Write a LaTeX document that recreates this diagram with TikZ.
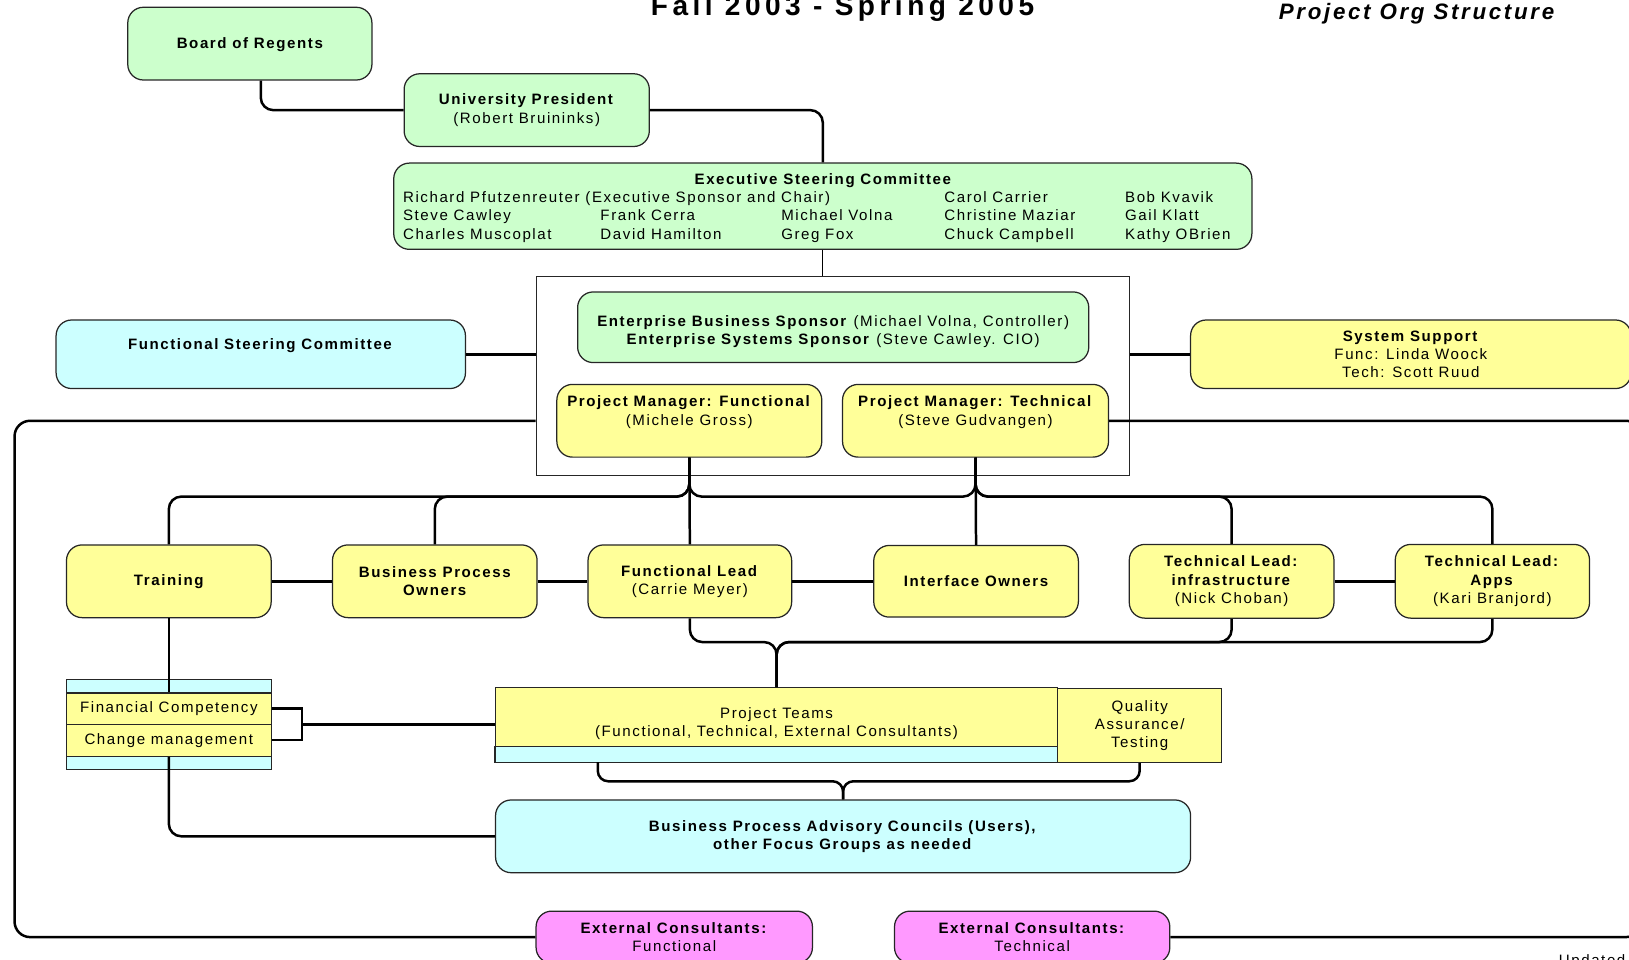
\documentclass[tikz,border=0pt]{standalone}
\usepackage{fontspec}
\setmainfont{Liberation Sans}[LetterSpace=10.5]
\usepackage{tikz}
\usepackage{xcolor}
\definecolor{boardgreen}{HTML}{CCFFCC}
\definecolor{steercyan}{HTML}{CCFFFF}
\definecolor{teamyellow}{HTML}{FFFF99}
\definecolor{consultpink}{HTML}{FF99FF}

\begin{document}
\begin{tikzpicture}[x=1pt,y=-1pt,font=\fontsize{14.5}{17.5}\selectfont,
  roundbox/.style={draw=black!85,line width=1.2pt,rounded corners=15pt,inner sep=0pt},
  box/.style={roundbox,align=center},
  plainbox/.style={draw=black!85,line width=1.2pt,inner sep=0pt,align=center},
  conn/.style={line width=2.4pt,rounded corners=12pt}]
\useasboundingbox (0,0) rectangle (1568,924);
\node[anchor=base,font=\fontsize{27}{31}\selectfont\bfseries\addfontfeatures{LetterSpace=16}] (title) at (811,15) {Fall 2003 - Spring 2005};
\node[anchor=base,font=\fontsize{21.5}{25}\selectfont\bfseries\itshape\addfontfeatures{LetterSpace=12}] (subtitle) at (1363.5,19) {Project Org Structure};
\node[box,fill=boardgreen,minimum width=235,minimum height=70] (bor) at (240.5,42) {\rule{0pt}{13pt}\bfseries Board of Regents};
\node[box,fill=boardgreen,minimum width=236,minimum height=70] (pres) at (507,106) {\textbf{University President}\\(Robert Bruininks)};
\node[roundbox,fill=boardgreen,minimum width=826,minimum height=83] (esc) at (792,198.5) {\setlength{\tabcolsep}{0pt}%
\begin{tabular}{p{190pt}p{174pt}p{157pt}p{174pt}p{113pt}}
\multicolumn{5}{c}{\bfseries Executive Steering Committee\rule{0pt}{16pt}}\\
\multicolumn{3}{l}{Richard Pfutzenreuter (Executive Sponsor and Chair)} & Carol Carrier & Bob Kvavik\\
Steve Cawley & Frank Cerra & Michael Volna & Christine Maziar & Gail Klatt\\
Charles Muscoplat & David Hamilton & Greg Fox & Chuck Campbell & Kathy OBrien
\end{tabular}};
\node[draw=black!85,line width=0.9pt,minimum width=571,minimum height=192] (grp) at (801.5,362) {};
\node[box,fill=boardgreen,minimum width=492,minimum height=68] (ess) at (802,315) {\mbox{}\\[1pt]\textbf{Enterprise Business Sponsor} (Michael Volna, Controller)\\\textbf{Enterprise Systems Sponsor} (Steve Cawley. CIO)};
\node[box,fill=steercyan,minimum width=394,minimum height=66] (fsc) at (251,341) {\textbf{Functional Steering Committee}\\[-3pt]\strut};
\node[box,fill=teamyellow,minimum width=424,minimum height=66] (sys) at (1358,341) {\textbf{System Support}\\Func: Linda Woock\\Tech: Scott Ruud};
\node[box,fill=teamyellow,minimum width=255,minimum height=70] (pmf) at (663.5,405) {\textbf{Project Manager: Functional}\\(Michele Gross)\\[-3pt]\strut};
\node[box,fill=teamyellow,minimum width=256,minimum height=70] (pmt) at (939,405) {\textbf{Project Manager: Technical}\\(Steve Gudvangen)\\[-3pt]\strut};
\node[box,fill=teamyellow,minimum width=197,minimum height=70] (train) at (162.5,559.5) {\bfseries Training};
\node[box,fill=teamyellow,minimum width=197,minimum height=70] (bpo) at (418.5,559.5) {\bfseries Business Process\\\bfseries Owners};
\node[box,fill=teamyellow,minimum width=196,minimum height=70] (fl) at (664,559.5) {\textbf{Functional Lead}\\(Carrie Meyer)};
\node[box,fill=teamyellow,minimum width=197,minimum height=69] (io) at (939.5,559.5) {\bfseries Interface Owners};
\node[box,fill=teamyellow,minimum width=197,minimum height=71] (tli) at (1185.5,559.5) {\textbf{Technical Lead:}\\\textbf{infrastructure}\\(Nick Choban)};
\node[box,fill=teamyellow,minimum width=187,minimum height=71] (tla) at (1436.5,559.5) {\textbf{Technical Lead:}\\\textbf{Apps}\\(Kari Branjord)};
\filldraw[draw=black!85,line width=1.2pt,fill=steercyan] (64,654) rectangle (261,741);
\node[plainbox,fill=teamyellow,minimum width=197,minimum height=30] (fincomp) at (162.5,682) {Financial Competency};
\node[plainbox,fill=teamyellow,minimum width=197,minimum height=31] (changemgmt) at (162.5,712.5) {Change management};
\node[plainbox,fill=teamyellow,minimum width=541,minimum height=71] (pt) at (747.5,697.5) {Project Teams\\(Functional, Technical, External Consultants)\\[-12pt]\mbox{}};
\filldraw[draw=black!85,line width=1.2pt,fill=steercyan] ([yshift=15pt]pt.south west) rectangle (pt.south east);
\node[plainbox,fill=teamyellow,minimum width=158,minimum height=71] (qa) at (1097,698.5) {Quality\\Assurance/\\Testing};
\node[box,fill=steercyan,minimum width=669,minimum height=70] (bpac) at (811.5,805) {\textbf{Business Process Advisory Councils (Users),}\\\textbf{other Focus Groups as needed}};
\node[box,fill=consultpink,minimum width=266,minimum height=50] (ecf) at (649,902) {\textbf{External Consultants:}\\Functional};
\node[box,fill=consultpink,minimum width=265,minimum height=50] (ect) at (993.5,902) {\textbf{External Consultants:}\\Technical};
\node[anchor=base west] (upd) at (1497,929.5) {Updated};
\coordinate (busa) at (0,478);
\coordinate (busb) at (0,618);
\coordinate (busc) at (0,752);
\coordinate (loopl) at (14,0);
\coordinate (loopr) at (1580,0);
\coordinate (brk) at ([xshift=29pt]fincomp.east);
\coordinate (ptout) at ([xshift=99pt]pt.south west);
\draw[conn] ([xshift=10.5pt]bor.south) |- (pres.west);
\draw[conn] (pres.east) -| (esc.north);
\draw[line width=1pt] (esc.south) -- (esc.south |- grp.north);
\draw[conn] (fsc.east) -- (fsc.east -| grp.west);
\draw[conn] (grp.east |- sys.west) -- (sys.west);
\draw[conn] (pmf.south) -- (fl.north);
\draw[conn] (pmf.south) |- (train.north |- busa) -- (train.north);
\draw[conn] (pmf.south) |- (bpo.north |- busa) -- (bpo.north);
\draw[conn] (pmf.south) |- (pmt.south |- busa) -- (pmt.south);
\draw[conn] (pmt.south) -- (io.north);
\draw[conn] (pmt.south) |- (tli.north |- busa) -- (tli.north);
\draw[conn] (pmt.south) |- (tla.north |- busa) -- (tla.north);
\draw[conn] (train.east) -- (bpo.west);
\draw[conn] (bpo.east) -- (fl.west);
\draw[conn] (fl.east) -- (io.west);
\draw[conn] (tli.east) -- (tla.west);
\draw[conn] (pt.north) |- (fl.south |- busb) -- (fl.south);
\draw[conn] (pt.north) |- (tli.south |- busb) -- (tli.south);
\draw[conn] (pt.north) |- (tla.south |- busb) -- (tla.south);
\draw[conn] (train.south) -- (fincomp.north);
\draw[line width=2.4pt] (fincomp.east) -| (brk |- changemgmt.east) -- (changemgmt.east);
\draw[conn] (pt.west) -- (pt.west -| brk);
\draw[conn] (changemgmt.south) |- (bpac.west);
\draw[conn,rounded corners=10pt] (bpac.north) |- (ptout |- busc) -- (ptout);
\draw[conn,rounded corners=10pt] (bpac.north) |- (qa.south |- busc) -- (qa.south);
\draw[conn,rounded corners=15pt] (grp.west |- pmf.east) -| (loopl |- ecf.west) -- (ecf.west);
\draw[conn,rounded corners=15pt] (pmt.east) -| (loopr |- ect.east) -- (ect.east);
\end{tikzpicture}
\end{document}
